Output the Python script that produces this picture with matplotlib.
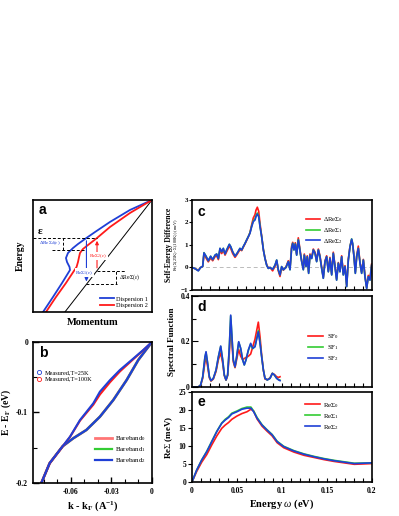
import matplotlib
matplotlib.use('Agg')
import matplotlib.pyplot as plt
from matplotlib.lines import Line2D
import numpy as np

plt.rcParams['font.family'] = ['Liberation Serif', 'DejaVu Serif']
plt.rcParams['mathtext.fontset'] = 'custom'
plt.rcParams['mathtext.rm'] = 'Liberation Serif'
plt.rcParams['mathtext.it'] = 'Liberation Serif:italic'
plt.rcParams['mathtext.bf'] = 'Liberation Serif:bold'

# ---- panel a: schematic dispersions (axes units 0..1)
disp1_x = [1.0, 0.815, 0.647, 0.521, 0.437, 0.378, 0.336, 0.294, 0.277, 0.286, 0.307, 0.311, 0.244, 0.168, 0.084]
disp1_y = [1.0, 0.911, 0.804, 0.714, 0.652, 0.607, 0.571, 0.527, 0.482, 0.446, 0.402, 0.375, 0.259, 0.134, 0.0]
disp2_x = [1.0, 0.815, 0.647, 0.538, 0.462, 0.420, 0.395, 0.387, 0.378, 0.366, 0.277, 0.193, 0.109]
disp2_y = [1.0, 0.884, 0.759, 0.661, 0.598, 0.563, 0.527, 0.491, 0.446, 0.402, 0.259, 0.134, 0.0]
bare_x = [0.268, 1.0]
bare_y = [0.0, 1.0]
eps = 0.661

# ---- panel b: measured dispersion and bare bands
meas_k = [0.0, -0.0064, -0.0150, -0.0237, -0.0310, -0.0385, -0.0434, -0.0532, -0.0606, -0.0757, -0.0819]
meas25_e = [0.0, -0.0113, -0.0255, -0.0397, -0.0540, -0.0705, -0.0870, -0.1106, -0.1343, -0.1720, -0.2004]
meas100_e = [0.0, -0.0116, -0.0265, -0.0418, -0.0570, -0.0745, -0.0890, -0.1115, -0.1346, -0.1722, -0.2004]
bare_k = [0.0, -0.0101, -0.0187, -0.0286, -0.0385, -0.0485, -0.0582, -0.0660, -0.0757, -0.0819]
bare0_e = [0.0, -0.0255, -0.0539, -0.0823, -0.1060, -0.1248, -0.1366, -0.1478, -0.1720, -0.2004]
bare1_e = [0.0, -0.0255, -0.0539, -0.0823, -0.1060, -0.1248, -0.1366, -0.1478, -0.1720, -0.2004]
bare2_e = [0.0, -0.0255, -0.0539, -0.0823, -0.1060, -0.1248, -0.1366, -0.1478, -0.1720, -0.2004]

# ---- panel c: self-energy difference
c_w = [0.0, 0.0033, 0.0070, 0.0096, 0.0119, 0.0133, 0.0156, 0.0181, 0.0207, 0.0230,
       0.0256, 0.0274, 0.0293, 0.0311, 0.0330, 0.0348, 0.0367, 0.0385, 0.0415, 0.0430,
       0.0452, 0.0478, 0.0504, 0.0533, 0.0552, 0.0570, 0.0589, 0.0607, 0.0626, 0.0644,
       0.0663, 0.0681, 0.0700, 0.0711, 0.0726, 0.0741, 0.0756, 0.0774, 0.0793, 0.0811,
       0.0830, 0.0848, 0.0867, 0.0896, 0.0922, 0.0941, 0.0959, 0.0978, 0.0996, 0.1015,
       0.1044, 0.1070, 0.1089, 0.1107, 0.1119, 0.1133, 0.1148, 0.1163, 0.1181, 0.1193,
       0.1207, 0.1219, 0.1237, 0.1248, 0.1267, 0.1281, 0.1296, 0.1311, 0.1330, 0.1348,
       0.1367, 0.1385, 0.1404, 0.1422, 0.1441, 0.1459, 0.1478, 0.1496, 0.1515, 0.1533,
       0.1552, 0.1570, 0.1589, 0.1607, 0.1626, 0.1644, 0.1663, 0.1681, 0.1700, 0.1719,
       0.1737, 0.1756, 0.1774, 0.1785, 0.1800, 0.1815, 0.1830, 0.1848, 0.1867, 0.1885,
       0.1904, 0.1922, 0.1941, 0.1959, 0.1978, 0.1996]
dre2 = [0.0, -0.05, -0.15, 0.0, 0.05, 0.65, 0.5, 0.3, 0.5, 0.35,
        0.55, 0.6, 0.4, 0.85, 0.7, 0.85, 0.6, 0.78, 1.03, 0.93,
        0.7, 0.5, 0.65, 0.85, 0.78, 0.93, 1.07, 1.22, 1.37, 1.52,
        1.81, 2.04, 2.11, 2.26, 2.38, 2.26, 1.81, 1.37, 0.78, 0.4,
        0.1, -0.04, 0.0, -0.08, 0.1, 0.33, -0.1, -0.33, 0.04, -0.1,
        0.0, 0.26, -0.1, 0.85, 1.07, 0.78, 1.04, 0.55, 1.22, 0.93,
        0.55, 0.26, -0.1, 0.55, 0.04, 0.48, -0.26, 0.55, 0.4, 0.78,
        0.63, 0.26, 0.78, 0.48, -0.04, -0.48, 0.26, 0.48, -0.19, 0.4,
        -0.33, 0.63, 0.04, -0.56, 0.19, -0.19, 0.48, -0.33, 0.04, -0.85,
        0.33, 0.93, 1.26, 1.07, 0.48, -0.26, 0.48, 0.85, 0.19, -0.26,
        0.33, -0.41, -0.93, -0.41, -0.56, 0.1]
dre1 = [0.0, -0.05, -0.14, 0.0, 0.05, 0.66, 0.5, 0.3, 0.5, 0.35,
        0.55, 0.6, 0.4, 0.85, 0.7, 0.85, 0.6, 0.78, 1.03, 0.93,
        0.7, 0.5, 0.65, 0.85, 0.78, 0.93, 1.07, 1.23, 1.38, 1.54,
        1.84, 2.08, 2.15, 2.3, 2.42, 2.28, 1.83, 1.38, 0.8, 0.4,
        0.1, -0.04, 0.0, -0.08, 0.1, 0.33, -0.1, -0.33, 0.04, -0.1,
        0.0, 0.26, -0.1, 0.86, 1.08, 0.78, 1.05, 0.55, 1.24, 0.93,
        0.55, 0.26, -0.1, 0.55, 0.04, 0.48, -0.26, 0.55, 0.4, 0.78,
        0.63, 0.26, 0.78, 0.48, -0.04, -0.48, 0.26, 0.48, -0.19, 0.4,
        -0.33, 0.63, 0.04, -0.56, 0.19, -0.19, 0.48, -0.33, 0.04, -0.85,
        0.33, 0.93, 1.27, 1.07, 0.48, -0.26, 0.48, 0.85, 0.19, -0.26,
        0.33, -0.41, -0.93, -0.41, -0.56, 0.1]
dre0 = [0.0, -0.05, -0.12, 0.0, 0.05, 0.6, 0.42, 0.25, 0.42, 0.3,
        0.48, 0.52, 0.35, 0.78, 0.62, 0.78, 0.55, 0.7, 0.95, 0.85,
        0.62, 0.45, 0.6, 0.8, 0.75, 0.9, 1.05, 1.2, 1.37, 1.55,
        1.9, 2.2, 2.35, 2.55, 2.68, 2.5, 1.95, 1.4, 0.8, 0.42,
        0.12, -0.02, 0.0, -0.15, 0.05, 0.3, -0.15, -0.4, 0.0, -0.12,
        0.02, 0.3, -0.05, 0.95, 1.12, 0.85, 1.1, 0.6, 1.32, 1.0,
        0.6, 0.3, -0.05, 0.6, 0.08, 0.52, -0.2, 0.6, 0.45, 0.82,
        0.68, 0.3, 0.82, 0.52, 0.0, -0.42, 0.3, 0.52, -0.15, 0.45,
        -0.28, 0.68, 0.08, -0.5, 0.22, -0.15, 0.52, -0.28, 0.08, -0.8,
        0.36, 0.95, 1.22, 1.0, 0.52, -0.2, 0.52, 0.95, 0.22, -0.2,
        0.36, -0.35, -0.9, -0.35, -0.5, 0.15]

# ---- panel d: spectral function
d_w = [0.0, 0.0070, 0.0096, 0.0119, 0.0144, 0.0156, 0.0174, 0.0193, 0.0211, 0.0237,
       0.0267, 0.0293, 0.0319, 0.0341, 0.0359, 0.0378, 0.0396, 0.0415, 0.0430, 0.0444,
       0.0459, 0.0478, 0.0496, 0.0519, 0.0541, 0.0563, 0.0581, 0.0600, 0.0626, 0.0652,
       0.0674, 0.0700, 0.0737, 0.0756, 0.0774, 0.0793, 0.0811, 0.0837, 0.0867, 0.0893,
       0.0915, 0.0941, 0.0963, 0.0978]
sf2 = [0.0, 0.0, 0.009, 0.045, 0.133, 0.155, 0.104, 0.045, 0.028, 0.038,
       0.075, 0.133, 0.18, 0.119, 0.053, 0.031, 0.053, 0.177, 0.316, 0.221,
       0.119, 0.089, 0.133, 0.199, 0.17, 0.119, 0.097, 0.119, 0.163, 0.192,
       0.17, 0.177, 0.243, 0.192, 0.133, 0.075, 0.038, 0.031, 0.038, 0.06,
       0.053, 0.038, 0.031, 0.028]
sf1 = [0.0, 0.0, 0.009, 0.044, 0.13, 0.152, 0.103, 0.045, 0.028, 0.038,
       0.074, 0.131, 0.178, 0.118, 0.053, 0.031, 0.053, 0.175, 0.312, 0.22,
       0.119, 0.089, 0.132, 0.197, 0.169, 0.119, 0.097, 0.119, 0.16, 0.188,
       0.168, 0.178, 0.248, 0.195, 0.134, 0.075, 0.038, 0.031, 0.038, 0.06,
       0.053, 0.038, 0.032, 0.03]
sf0 = [0.0, 0.0, 0.008, 0.038, 0.11, 0.13, 0.09, 0.04, 0.026, 0.035,
       0.068, 0.12, 0.15, 0.105, 0.05, 0.03, 0.05, 0.15, 0.265, 0.19,
       0.11, 0.085, 0.12, 0.165, 0.135, 0.12, 0.125, 0.13, 0.135, 0.145,
       0.175, 0.21, 0.285, 0.22, 0.14, 0.075, 0.035, 0.032, 0.04, 0.06,
       0.055, 0.045, 0.042, 0.045]

# ---- panel e: real part of self-energy
e_w = [0.0, 0.0052, 0.0108, 0.0164, 0.0220, 0.0276, 0.0331, 0.0369, 0.0406, 0.0443,
       0.0499, 0.0555, 0.0611, 0.0655, 0.0685, 0.0723, 0.0778, 0.0834, 0.0890, 0.0946,
       0.1020, 0.1132, 0.1244, 0.1356, 0.1467, 0.1579, 0.1691, 0.1803, 0.2]
re2 = [0.0, 3.3, 6.1, 8.4, 11.2, 14.0, 16.3, 17.2, 17.9, 18.9,
       19.5, 20.2, 20.5, 20.5, 19.5, 17.7, 15.8, 14.4, 13.1, 11.2,
       9.8, 8.6, 7.7, 7.0, 6.4, 5.9, 5.5, 5.1, 5.3]
re1 = [0.0, 3.3, 6.1, 8.5, 11.3, 14.1, 16.4, 17.4, 18.1, 19.1,
       19.7, 20.4, 20.8, 20.8, 19.7, 17.9, 15.9, 14.5, 13.2, 11.3,
       9.9, 8.7, 7.8, 7.1, 6.5, 6.0, 5.6, 5.2, 5.3]
re0 = [0.0, 2.9, 5.5, 7.6, 10.3, 12.8, 14.9, 15.8, 16.5, 17.4,
       18.3, 19.0, 19.5, 20.2, 19.7, 17.5, 15.5, 14.1, 12.8, 10.9,
       9.5, 8.3, 7.4, 6.8, 6.2, 5.7, 5.3, 4.9, 5.1]

red = '#ff1a1a'
green = '#33cc33'
blue = '#1f3fd6'
fs_tick = 5.5

fig = plt.figure(figsize=(3.99, 5.16), dpi=100)


def panel_letter(ax, s, x=0.04, y=0.96):
    ax.text(x, y, s, transform=ax.transAxes, fontsize=10, fontweight='bold',
            family='Liberation Sans', va='top', ha='left')


def style_ticks(ax):
    for lab in ax.get_xticklabels() + ax.get_yticklabels():
        lab.set_fontweight('bold')
    for sp in ax.spines.values():
        sp.set_linewidth(1.2)


# ================= panel a
axa = fig.add_axes([0.0827, 0.3953, 0.2982, 0.2171])
axa.plot(bare_x, bare_y, color='black', lw=0.7)
axa.plot(disp1_x, disp1_y, color=blue, lw=1.3, label='Dispersion 1')
axa.plot(disp2_x, disp2_y, color=red, lw=1.3, label='Dispersion 2')
axa.set_xlim(0, 1)
axa.set_ylim(0, 1)
axa.set_xticks([])
axa.set_yticks([])
for sp in axa.spines.values():
    sp.set_linewidth(1.2)

# crossings of the eps level
k1 = np.interp(eps, disp1_y[::-1], disp1_x[::-1])
k2 = np.interp(eps, disp2_y[::-1], disp2_x[::-1])
b1 = np.interp(k1, bare_x, bare_y)
b2 = np.interp(k2, bare_x, bare_y)
d2_at_k1 = np.interp(k1, disp2_x[::-1], disp2_y[::-1]) - 0.03

dkw = dict(color='black', lw=0.7, ls=(0, (3, 2)))
axa.plot([0, k2], [eps, eps], **dkw)
axa.plot([0.157, k1], [d2_at_k1, d2_at_k1], **dkw)
axa.plot([0.25, 0.25], [d2_at_k1, eps], **dkw)
axa.plot([k2, 0.773], [b2, b2], **dkw)
axa.plot([k1, 0.703], [b1, b1], **dkw)
axa.plot([0.697, 0.697], [b1, b2], **dkw)

axa.annotate('', xy=(k1, b1), xytext=(k1, eps),
             arrowprops=dict(arrowstyle='-|>', color=blue, lw=0.8, mutation_scale=5))
axa.annotate('', xy=(k2, eps), xytext=(k2, b2),
             arrowprops=dict(arrowstyle='-|>', color=red, lw=0.8, mutation_scale=5))
axa.text(k1 - 0.02, 0.35, r'Re$\Sigma_1$($\varepsilon$)', color=blue, fontsize=3.8,
         ha='center', va='center', bbox=dict(fc='white', ec='none', pad=0.3))
axa.text(k2 + 0.01, 0.50, r'Re$\Sigma_2$($\varepsilon$)', color=red, fontsize=3.8,
         ha='center', va='center', bbox=dict(fc='white', ec='none', pad=0.3))
axa.text(0.14, (eps + d2_at_k1) / 2 + 0.01, r'$\Delta$Re$\Sigma_d$($\varepsilon$)', color=blue,
         fontsize=3.8, ha='center', va='center')
axa.text(0.72, (b1 + b2) / 2, r'$\Delta$Re$\Sigma$($\varepsilon$)', color='black',
         fontsize=4.2, ha='left', va='center')
axa.text(0.03, eps + 0.02, r'$\mathbf{\varepsilon}$', fontsize=8, ha='left', va='bottom')
panel_letter(axa, 'a', 0.05, 0.97)
axa.legend(loc='lower right', fontsize=4.5, frameon=False, handlelength=2.2,
           handletextpad=0.4, borderaxespad=0.2, labelspacing=0.2)
axa.set_ylabel('Energy', fontsize=7, fontweight='bold', labelpad=6)
axa.set_xlabel('Momentum', fontsize=7.5, fontweight='bold', labelpad=4)

# ================= panel b
axb = fig.add_axes([0.0827, 0.064, 0.2982, 0.2733])
axb.plot(bare_k, bare0_e, color=red, lw=2.0, alpha=0.6, label=r'Bareband$_0$')
axb.plot(bare_k, bare1_e, color=green, lw=1.6, label=r'Bareband$_1$')
axb.plot(bare_k, bare2_e, color=blue, lw=1.6, label=r'Bareband$_2$')
axb.plot(meas_k, meas100_e, color=red, lw=1.5)
axb.plot(meas_k, meas25_e, color=blue, lw=1.5)
axb.set_xlim(-0.088, 0)
axb.set_ylim(-0.2, 0)
axb.set_xticks([-0.06, -0.03, 0])
axb.set_xticklabels(['-0.06', '-0.03', '0'])
axb.set_xticks(np.arange(-0.08, 0.001, 0.01), minor=True)
axb.set_yticks([-0.2, -0.1, 0])
axb.set_yticklabels(['-0.2', '-0.1', '0'])
axb.set_yticks([-0.15, -0.05], minor=True)
axb.tick_params(direction='in', labelsize=fs_tick, length=4, width=1)
axb.tick_params(which='minor', direction='in', length=3, width=0.8)
style_ticks(axb)
panel_letter(axb, 'b', 0.05, 0.97)
leg1 = axb.legend(handles=[Line2D([], [], ls='none', marker='o', mfc='none', mec=blue, ms=3, mew=0.6),
                           Line2D([], [], ls='none', marker='o', mfc='none', mec=red, ms=3, mew=0.6)],
                  labels=['Measured,T=25K', 'Measured,T=100K'], loc='upper left',
                  bbox_to_anchor=(-0.02, 0.84), fontsize=4.5, frameon=False, handlelength=1,
                  handletextpad=0.3, labelspacing=0.15)
axb.add_artist(leg1)
axb.legend(loc='lower right', bbox_to_anchor=(1.0, 0.08), fontsize=5, frameon=False,
           handlelength=2.5, handletextpad=0.4, labelspacing=0.3)
axb.set_ylabel(r'E - E$_\mathbf{F}$ (eV)', fontsize=7, fontweight='bold', labelpad=2)
axb.set_xlabel(r'k - k$_\mathbf{F}$ (A$^\mathbf{-1}$)', fontsize=7.5, fontweight='bold', labelpad=2)

# ================= panel c
axc = fig.add_axes([0.4812, 0.438, 0.4511, 0.1744])
axc.axhline(0, color='#bbbbbb', lw=0.7, ls=(0, (4, 3)))
axc.plot(c_w, dre0, color=red, lw=1.2, label=r'$\Delta$Re$\Sigma_0$')
axc.plot(c_w, dre1, color=green, lw=1.2, label=r'$\Delta$Re$\Sigma_1$')
axc.plot(c_w, dre2, color=blue, lw=1.2, label=r'$\Delta$Re$\Sigma_2$')
axc.set_xlim(0, 0.2)
axc.set_ylim(-1, 3)
axc.set_yticks([-1, 0, 1, 2, 3])
axc.set_xticks(np.arange(0.01, 0.2, 0.01))
axc.tick_params(axis='x', direction='in', labelbottom=False, length=3, width=0.8)
axc.tick_params(axis='y', direction='out', labelsize=5, length=2.5, width=0.8, pad=0.5)
style_ticks(axc)
panel_letter(axc, 'c', 0.03, 0.95)
axc.legend(loc='upper right', bbox_to_anchor=(0.87, 0.9), fontsize=4.8, frameon=False,
           handlelength=2.2, handletextpad=0.4, labelspacing=0.3)
axc.text(-0.128, 0.5, 'Self-Energy Difference', transform=axc.transAxes, rotation=90,
         fontsize=5.5, fontweight='bold', ha='center', va='center')
axc.text(-0.088, 0.5, r'Re($\Sigma$(25K)- $\Sigma$(100K)) (meV)', transform=axc.transAxes,
         rotation=90, fontsize=3.2, ha='center', va='center')

# ================= panel d
axd = fig.add_axes([0.4812, 0.25, 0.4511, 0.1764])
axd.plot(d_w, sf0, color=red, lw=1.2, label=r'SF$_0$')
axd.plot(d_w, sf1, color=green, lw=1.2, label=r'SF$_1$')
axd.plot(d_w, sf2, color=blue, lw=1.2, label=r'SF$_2$')
axd.set_xlim(0, 0.2)
axd.set_ylim(0, 0.4)
axd.set_yticks([0, 0.2, 0.4])
axd.set_yticklabels(['0', '0.2', '0.4'])
axd.set_yticks([0.1, 0.3], minor=True)
axd.set_xticks(np.arange(0.01, 0.2, 0.01))
axd.tick_params(axis='x', direction='in', labelbottom=False, length=3, width=0.8)
axd.tick_params(axis='y', direction='in', labelsize=fs_tick, length=4, width=0.8, pad=1.5)
axd.tick_params(axis='y', which='minor', direction='in', length=3, width=0.8)
style_ticks(axd)
panel_letter(axd, 'd', 0.03, 0.96)
axd.legend(loc='center right', bbox_to_anchor=(0.85, 0.43), fontsize=5, frameon=False,
           handlelength=2.2, handletextpad=0.5, labelspacing=0.3)
axd.set_ylabel('Spectral Function', fontsize=6.5, fontweight='bold', labelpad=3)

# ================= panel e
axe = fig.add_axes([0.4812, 0.066, 0.4511, 0.1744])
axe.plot(e_w, re0, color=red, lw=1.2, label=r'Re$\Sigma_0$')
axe.plot(e_w, re1, color=green, lw=1.2, label=r'Re$\Sigma_1$')
axe.plot(e_w, re2, color=blue, lw=1.2, label=r'Re$\Sigma_2$')
axe.set_xlim(0, 0.2)
axe.set_ylim(0, 25)
axe.set_yticks([0, 5, 10, 15, 20, 25])
axe.set_xticks([0, 0.05, 0.1, 0.15, 0.2])
axe.set_xticklabels(['0', '0.05', '0.1', '0.15', '0.2'])
axe.set_xticks(np.arange(0.01, 0.2, 0.01), minor=True)
axe.tick_params(axis='x', which='both', direction='in', labelsize=fs_tick, length=3, width=0.8)
axe.tick_params(axis='y', direction='out', labelsize=fs_tick, length=3, width=0.8, pad=1)
style_ticks(axe)
panel_letter(axe, 'e', 0.03, 0.97)
axe.legend(loc='upper right', bbox_to_anchor=(0.85, 0.97), fontsize=5, frameon=False,
           handlelength=2.2, handletextpad=0.4, labelspacing=0.3)
axe.set_ylabel(r'Re$\Sigma$ (meV)', fontsize=6.5, fontweight='bold', labelpad=3)
axe.set_xlabel(r'Energy $\omega$ (eV)', fontsize=7.5, fontweight='bold', labelpad=2)

fig.savefig('out.png', dpi=100)
